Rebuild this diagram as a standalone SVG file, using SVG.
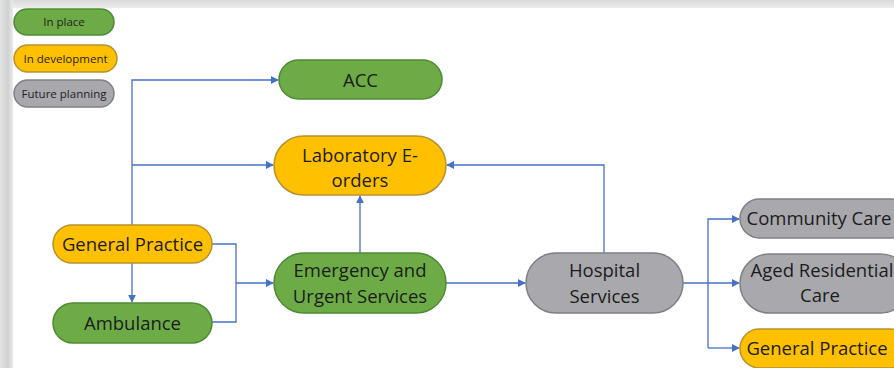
<svg xmlns="http://www.w3.org/2000/svg" width="894" height="368" viewBox="0 0 894 368">
  <defs>
    <marker id="arr" viewBox="0 0 10 10" refX="9" refY="5" markerWidth="8" markerHeight="8" markerUnits="userSpaceOnUse" orient="auto">
      <path d="M0,0 L10,5 L0,10 z" fill="#4472c4"/>
    </marker>
    <linearGradient id="leftBand" x1="0" y1="0" x2="1" y2="0">
      <stop offset="0" stop-color="#e4e4e4"/>
      <stop offset="0.6" stop-color="#cfd1d0"/>
      <stop offset="1" stop-color="#e9eae9"/>
    </linearGradient>
    <linearGradient id="topBand" x1="0" y1="0" x2="0" y2="1">
      <stop offset="0" stop-color="#dadada"/>
      <stop offset="1" stop-color="#ececec"/>
    </linearGradient>
  </defs>
  <style>
    .pill { stroke-width: 1.5; }
    .green { fill: #6cab46; stroke: #4f8a34; }
    .yellow { fill: #ffc000; stroke: #b89130; }
    .gray { fill: #a8a8ad; stroke: #7f8086; }
    .lbl { font-family: "Open Sans", "Noto Sans", sans-serif; font-size: 18.5px; fill: #1c1c1c; text-anchor: middle; }
    .leg { font-family: "Open Sans", "Noto Sans", sans-serif; font-size: 11.5px; fill: #1f1f1f; text-anchor: middle; }
    .conn { fill: none; stroke: #4472c4; stroke-width: 1.3; }
  </style>

  <!-- page and surrounding frame -->
  <rect x="0" y="0" width="894" height="368" fill="#ffffff"/>
  <rect x="0" y="0" width="894" height="8" fill="url(#topBand)"/>
  <rect x="0" y="0" width="13" height="368" fill="url(#leftBand)"/>

  <!-- legend -->
  <g id="legend-in-place">
    <rect class="pill green" x="14" y="9" width="100" height="26" rx="13"/>
    <text class="leg" x="64" y="26">In place</text>
  </g>
  <g id="legend-in-development">
    <rect class="pill yellow" x="14" y="45" width="103" height="27" rx="13.5"/>
    <text class="leg" x="65.5" y="62.5">In development</text>
  </g>
  <g id="legend-future-planning">
    <rect class="pill gray" x="14" y="80" width="100" height="27" rx="13.5"/>
    <text class="leg" x="64" y="97.5">Future planning</text>
  </g>

  <!-- connectors -->
  <g id="connectors">
    <polyline class="conn" points="132,225 132,80 278,80" marker-end="url(#arr)"/>
    <polyline class="conn" points="132,165 273,165" marker-end="url(#arr)"/>
    <polyline class="conn" points="132,263 132,302" marker-end="url(#arr)"/>
    <polyline class="conn" points="212,244 236,244 236,322 212,322"/>
    <polyline class="conn" points="236,283 273,283" marker-end="url(#arr)"/>
    <polyline class="conn" points="360,253 360,196" marker-end="url(#arr)"/>
    <polyline class="conn" points="446,283 525,283" marker-end="url(#arr)"/>
    <polyline class="conn" points="604,253 604,165 447,165" marker-end="url(#arr)"/>
    <polyline class="conn" points="683,283 739,283" marker-end="url(#arr)"/>
    <polyline class="conn" points="708,348 708,219 739,219" marker-end="url(#arr)"/>
    <polyline class="conn" points="708,348 739,348" marker-end="url(#arr)"/>
  </g>

  <!-- nodes -->
  <g id="acc">
    <rect class="pill green" x="279" y="60" width="163" height="39" rx="19.5"/>
    <text class="lbl" x="360.5" y="86.5">ACC</text>
  </g>
  <g id="lab-eorders">
    <rect class="pill yellow" x="274" y="136" width="172" height="59" rx="29.5"/>
    <text class="lbl" x="360" y="161.5">Laboratory E-</text>
    <text class="lbl" x="360" y="186.5">orders</text>
  </g>
  <g id="general-practice-left">
    <rect class="pill yellow" x="53" y="225" width="159" height="38" rx="19"/>
    <text class="lbl" x="132.5" y="250.5">General Practice</text>
  </g>
  <g id="ambulance">
    <rect class="pill green" x="53" y="303" width="159" height="40" rx="20"/>
    <text class="lbl" x="132.5" y="329.5">Ambulance</text>
  </g>
  <g id="emergency">
    <rect class="pill green" x="274" y="253" width="172" height="60" rx="30"/>
    <text class="lbl" x="360" y="276.5">Emergency and</text>
    <text class="lbl" x="360" y="302.5">Urgent Services</text>
  </g>
  <g id="hospital">
    <rect class="pill gray" x="526" y="253" width="157" height="60" rx="30"/>
    <text class="lbl" x="604.5" y="276.5">Hospital</text>
    <text class="lbl" x="604.5" y="302.5">Services</text>
  </g>
  <g id="community-care">
    <rect class="pill gray" x="740" y="199" width="170" height="39" rx="19.5"/>
    <text class="lbl" x="819" y="225">Community Care</text>
  </g>
  <g id="aged-residential-care">
    <rect class="pill gray" x="740" y="254" width="170" height="59" rx="29.5"/>
    <text class="lbl" x="822" y="277">Aged Residential</text>
    <text class="lbl" x="820" y="302">Care</text>
  </g>
  <g id="general-practice-right">
    <rect class="pill yellow" x="740" y="329" width="170" height="39" rx="19.5"/>
    <text class="lbl" x="817" y="354.5">General Practice</text>
  </g>
</svg>
